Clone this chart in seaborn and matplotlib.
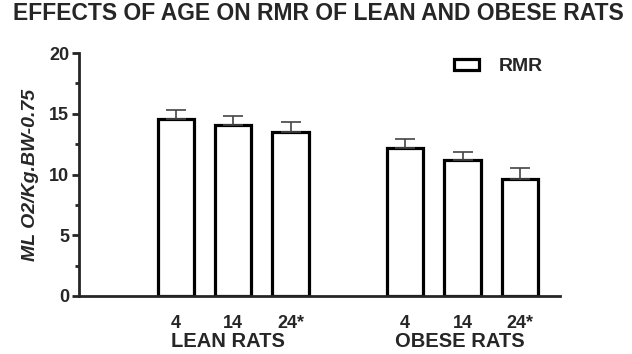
import pandas as pd
import numpy as np
import seaborn as sns
import matplotlib.pyplot as plt
from matplotlib.patches import Patch
from matplotlib.ticker import MultipleLocator
from matplotlib.transforms import blended_transform_factory

# values
ages = ['4', '14', '24*']
groups = ['LEAN RATS', 'OBESE RATS']
lean_rmr = [14.6, 14.1, 13.5]
lean_sem = [0.7, 0.7, 0.8]
obese_rmr = [12.2, 11.2, 9.6]
obese_sem = [0.7, 0.65, 0.9]

pos = [0, 1, 2, 4, 5, 6]
df = pd.DataFrame({
    'pos': pos,
    'age': ages + ages,
    'group': [groups[0]] * 3 + [groups[1]] * 3,
    'rmr': lean_rmr + obese_rmr,
    'sem': lean_sem + obese_sem,
})

sns.set_style('ticks')
plt.rcParams['font.family'] = ['Liberation Sans', 'DejaVu Sans']

fig = plt.figure(figsize=(6.32, 3.54), dpi=100)
ax = fig.add_axes([0.125, 0.164, 0.761, 0.686])

sns.barplot(data=df, x='pos', y='rmr', native_scale=True, width=0.63,
            color='white', edgecolor='black', linewidth=2.3, ax=ax, errorbar=None)

ax.errorbar(df['pos'], df['rmr'], yerr=[np.zeros(len(df)), df['sem']],
            fmt='none', ecolor='#444444', elinewidth=1.2, capsize=7, capthick=1.2, zorder=1)

ax.set_xlim(-1.69, 6.7)
ax.set_ylim(0, 20)
ax.yaxis.set_major_locator(MultipleLocator(5))
ax.yaxis.set_minor_locator(MultipleLocator(2.5))
ax.set_xticks(pos)
ax.set_xticklabels(df['age'], fontweight='bold', fontsize=13)
ax.tick_params(axis='x', length=0, pad=14)
ax.tick_params(axis='y', which='major', length=5, width=2, labelsize=13, pad=2)
ax.tick_params(axis='y', which='minor', length=3, width=2)
for lab in ax.get_yticklabels():
    lab.set_fontweight('bold')
for s in ['top', 'right']:
    ax.spines[s].set_visible(False)
for s in ['left', 'bottom']:
    ax.spines[s].set_linewidth(2)
ax.set_xlabel('')
ax.set_ylabel('ML O2/Kg.BW-0.75', fontstyle='italic', fontweight='bold', fontsize=14, labelpad=7)

tr = blended_transform_factory(ax.transData, ax.transAxes)
ax.text(0.9, -0.148, groups[0], transform=tr, ha='center', va='top', fontweight='bold', fontsize=14.5)
ax.text(4.95, -0.148, groups[1], transform=tr, ha='center', va='top', fontweight='bold', fontsize=14.5)

ax.legend(handles=[Patch(facecolor='white', edgecolor='black', linewidth=2.3, label='RMR')],
          loc='upper right', bbox_to_anchor=(1.0, 1.05), frameon=False,
          prop={'weight': 'bold', 'size': 14}, handlelength=1.3, handleheight=0.55,
          handletextpad=1.0)

fig.suptitle('EFFECTS OF AGE ON RMR OF LEAN AND OBESE RATS', x=0.503, y=0.995,
             fontweight='bold', fontsize=16.5)

fig.savefig('out.png', dpi=100)
